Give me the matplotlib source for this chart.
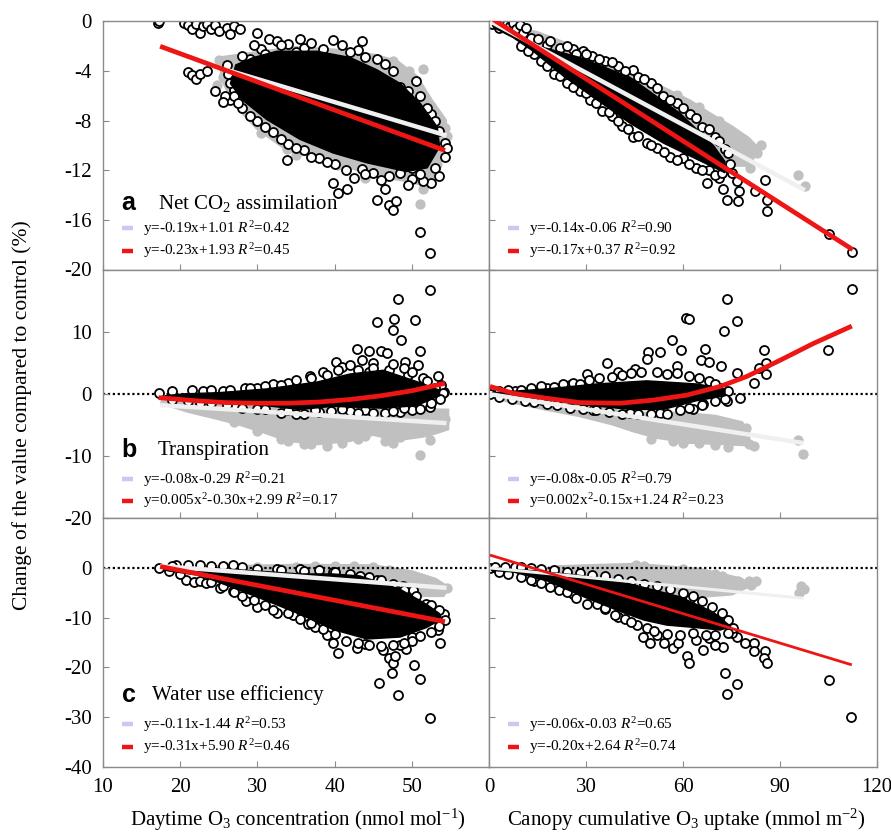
import matplotlib
matplotlib.use("Agg")
import matplotlib.pyplot as plt

plt.rcParams["font.family"] = ["Liberation Serif", "DejaVu Serif"]
plt.rcParams["mathtext.fontset"] = "custom"
plt.rcParams["mathtext.rm"] = "Liberation Serif"
plt.rcParams["mathtext.it"] = "Liberation Serif:italic"
plt.rcParams["mathtext.bf"] = "Liberation Serif:bold"
plt.rcParams["axes.unicode_minus"] = False

# -----------------------------------------------------------------------------
# Data (x, y in data units)
# core = outline of the solid, fully overlapped part of each cloud
# -----------------------------------------------------------------------------

# --- a, left: net CO2 assimilation vs daytime O3 ---
a_l_gray_core_x = [25.5, 30, 35, 40, 45, 48, 50.5, 52.5, 54.2, 54.3, 53.5, 52, 50, 45, 40, 34, 30, 27, 25.5]
a_l_gray_core_y = [-3.0, -2.6, -2.2, -2.4, -2.8, -3.3, -4.5, -6.5, -8.0, -9.5, -11.5, -13.2, -12.8, -12.3, -11.2, -10.3, -8.5, -6.5, -4.5]
a_l_gray_x = [25.0, 25.5, 24.8, 47.5, 49.5, 50.3, 51.3, 52.5, 53.5, 54.3, 54.5, 53.2, 51.5, 51.0, 33.8, 35.0, 30.5, 51.5, 49.6, 44.0, 40.5]
a_l_gray_y = [-3.1, -4.5, -5.1, -3.2, -4.3, -5.0, -6.3, -6.8, -7.8, -8.6, -9.2, -11.5, -13.5, -14.7, -10.3, -10.8, -9.0, -3.8, -4.0, -12.6, -11.6]
a_l_core_x = [27.2, 29.5, 32.5, 37.7, 42.0, 45.5, 48.5, 51.1, 53.3, 53.6, 52.0, 49.3, 44.2, 39.8, 35.5, 31.2, 28.0, 26.5]
a_l_core_y = [-3.5, -2.9, -2.4, -2.4, -2.9, -3.9, -5.0, -6.6, -8.5, -10.1, -11.8, -12.1, -11.4, -10.6, -9.5, -7.9, -6.3, -5.0]
a_l_pts_x = [17.1, 17.2, 20.5, 21.0, 21.5, 22.0, 22.5, 23.0, 23.5, 24.0, 24.5, 25.0, 26.0, 27.0, 27.8, 26.5,
             21.0, 21.5, 22.0, 22.5, 23.5,
             26.0, 27.0, 26.5, 25.8, 28.0, 29.0, 30.0, 31.5, 32.5, 34.0, 36.0, 39.8, 41.0, 43.0, 45.5, 47.5,
             48.5, 50.5, 51.0, 52.5, 53.5, 54.3, 54.3, 53.5, 52.5, 51.5, 50.0, 48.5, 47.0, 45.0, 43.5, 41.5,
             40.0, 38.0, 36.0, 34.0, 33.8, 32.0, 30.0, 28.0, 27.0,
             39.8, 40.5, 41.6, 45.5, 46.5, 47.0, 48.0, 47.5, 51.0, 52.3]
a_l_pts_y = [-0.1, 0.0, -0.1, -0.3, -0.6, -0.2, -0.9, -0.4, -0.2, -0.6, -0.3, -0.8, -0.5, -0.4, -0.6, -1.0,
             -4.1, -4.3, -4.6, -4.2, -4.0,
             -3.5, -5.5, -6.3, -6.0, -4.0, -3.0, -0.9, -1.4, -1.6, -1.8, -2.1, -1.5, -1.9, -2.3, -3.0, -4.0,
             -5.3, -4.8, -6.0, -7.5, -8.8, -9.8, -10.9, -12.5, -13.0, -12.9, -12.7, -12.2, -12.5, -12.2, -11.9, -12.0,
             -11.5, -11.0, -10.4, -9.9, -11.2, -8.9, -8.0, -7.0, -6.0,
             -13.0, -13.8, -13.5, -14.4, -13.5, -14.8, -14.5, -15.2, -17.0, -18.7]
a_l_edge_x = [28, 30.5, 33, 35, 37, 38.5, 42, 44, 46.5, 49.5, 52, 53, 54.5, 53, 51, 49.5, 46, 44, 42.5,
              39, 37, 35, 33, 31, 29, 27.5, 26.5, 26.2, 25.5, 24.5, 29.5, 31, 35.5, 43.5, 50]
a_l_edge_y = [-2.8, -2.2, -1.9, -2.5, -1.7, -2.2, -2.5, -2.9, -3.4, -5.6, -7.0, -8.0, -10.2, -11.8, -12.3, -13.2,
              -12.8, -12.3, -12.6, -11.3, -10.9, -10.2, -9.5, -8.5, -7.6, -6.6, -5.0, -4.2, -6.5, -5.6, -1.9,
              -2.6, -1.4, -1.6, -11.8]
a_l_white_x = [25.5, 54.5]
a_l_white_y = [-3.8, -9.2]
a_l_red_x = [17.4, 54.3]
a_l_red_y = [-2.0, -10.4]

# --- a, right: net CO2 assimilation vs canopy O3 uptake ---
a_r_gray_core_x = [3, 15, 25, 33, 40, 48, 55, 62, 68, 75, 80, 83, 80, 76, 70, 60, 50, 40, 30, 20, 10]
a_r_gray_core_y = [-0.3, -1.0, -2.0, -3.0, -3.6, -4.7, -5.6, -6.5, -7.5, -8.6, -9.5, -10.3, -11.5, -11.5, -10.5, -9.0, -7.5, -6.0, -4.5, -3.0, -1.5]
a_r_gray_x = [95.7, 97.7, 80.7, 83.0, 78.7, 84.0, 71.0, 73.0, 65.0, 58.0, 50.0, 45.0, 35.0]
a_r_gray_y = [-12.4, -13.3, -11.8, -10.6, -9.5, -10.0, -8.0, -9.3, -6.9, -5.9, -5.0, -4.3, -3.2]
a_r_core_x = [1.0, 12.7, 28.1, 43.6, 59.1, 69.4, 73.0, 73.0, 64.2, 53.9, 43.6, 33.3, 23.0, 13.7, 7.5, 1.5]
a_r_core_y = [-0.3, -1.8, -2.9, -4.5, -7.4, -10.0, -11.3, -12.2, -11.1, -9.8, -8.2, -6.3, -4.4, -2.4, -1.3, -0.5]
a_r_pts_x = [0.3, 1.0, 5.5, 6.5, 7.5, 8.5, 9.5, 10.6, 11.5,
             17.8, 22.0, 26.0, 29.0, 32.0, 36.0, 40.0, 44.6, 46.0, 50.0, 53.9, 58.0, 62.2, 66.0, 70.0, 73.0,
             67.3, 72.5, 73.5, 77.1, 77.4, 76.6, 82.3, 85.4, 85.9, 85.9, 105.0, 112.2,
             14.0, 16.0, 20.0, 24.0, 28.0, 31.2, 35.0, 38.0, 41.0, 44.6, 48.8, 52.0, 56.0, 60.0, 64.0, 68.0,
             71.0, 74.5, 75.0]
a_r_pts_y = [0.0, -0.2, -0.2, -0.4, -0.1, -0.6, -0.3, -0.9, -0.5,
             -1.9, -2.1, -2.2, -2.4, -2.8, -3.2, -3.6, -3.9, -4.5, -5.0, -6.0, -6.6, -7.5, -8.5, -9.3, -10.3,
             -13.0, -13.5, -14.4, -14.5, -13.7, -12.9, -13.7, -12.8, -14.4, -15.3, -17.1, -18.6,
             -2.6, -3.2, -4.2, -5.0, -5.6, -6.3, -7.2, -7.6, -8.4, -9.3, -9.8, -10.2, -10.9, -11.0, -11.8, -12.0,
             -12.6, -11.5, -12.2]
a_r_edge_x = [3, 13, 15, 19, 24, 27, 30, 34, 38, 42, 48, 52, 56, 60, 64, 68, 71, 74,
              10, 12, 18, 22, 26, 30, 33, 37, 40, 43, 46, 50, 54, 58, 62, 66, 70, 72]
a_r_edge_y = [-0.5, -1.3, -1.4, -1.6, -2.0, -2.6, -2.6, -3.0, -3.3, -4.0, -4.6, -5.4, -6.3, -7.0, -7.8, -8.7, -9.6, -10.6,
              -2.0, -2.4, -3.6, -4.4, -5.3, -5.8, -6.6, -7.3, -8.0, -8.7, -9.2, -10.0, -10.5, -11.2, -11.5, -12.0, -12.4, -12.2]
a_r_white_x = [0.5, 97.7]
a_r_white_y = [0.0, -13.6]
a_r_red_x = [0.5, 112.5]
a_r_red_y = [0.3, -18.4]

# --- b, left: transpiration vs daytime O3 ---
b_l_gray_core_x = [17.5, 25, 35, 45, 54.5, 54.5, 52, 48, 45, 42, 38, 34, 31, 28, 25, 21]
b_l_gray_core_y = [-1.2, -1.8, -2.3, -2.6, -2.8, -5.5, -6.5, -7.2, -6.3, -7.3, -7.8, -7.3, -6.0, -4.8, -3.8, -2.6]
b_l_gray_x = [51.1, 52.4, 47.5, 46.5, 39.0, 36.0, 34.0, 33.0, 30.0, 44.0, 54.3, 53.5, 27.0, 48.5, 41.0, 43.0, 37.0]
b_l_gray_y = [-9.8, -7.4, -7.9, -7.6, -8.3, -8.1, -7.6, -7.3, -6.0, -6.8, -4.0, -5.0, -4.5, -7.0, -7.9, -7.2, -8.0]
b_l_core_x = [18.0, 20.4, 25.0, 31.2, 37.7, 42.0, 46.3, 50.6, 53.6, 53.6, 50.6, 46.3, 39.8, 35.5, 29.0, 20.4]
b_l_core_y = [-0.3, 0.0, 0.2, 0.8, 1.9, 3.2, 3.8, 2.0, 0.6, -0.3, -1.9, -2.3, -2.0, -2.5, -1.6, -0.8]
b_l_pts_x = [52.4, 48.2, 45.5, 47.7, 47.5, 48.6, 50.4, 51.1, 42.9, 44.5, 46.0, 50.8, 53.4, 49.1, 40.2, 38.5,
             52.4, 46.5, 48.5, 53.0, 54.2, 36.8, 32.0, 28.4, 21.5, 17.2, 23.0, 25.5, 30.0, 34.0, 41.0, 43.5,
             45.0, 47.0, 49.5, 51.5, 53.8, 50.0, 44.0, 42.0, 38.0, 35.0, 33.0, 30.0, 27.0, 24.0, 21.0, 44.5, 46.8]
b_l_pts_y = [16.7, 15.3, 11.6, 12.0, 10.2, 8.6, 11.9, 6.9, 7.2, 6.9, 6.9, 4.6, 2.9, 5.2, 5.2, 3.5,
             -2.1, -3.0, -2.9, -0.3, 0.3, 2.8, 1.6, 0.9, 0.6, 0.2, 0.5, 0.4, 1.0, 1.8, 4.3, 5.5,
             5.0, 3.8, 3.0, 2.6, 1.5, -2.6, -2.6, -2.8, -2.9, -3.3, -3.0, -2.4, -1.8, -1.5, -1.2, 3.5, 6.5]
b_l_edge_x = [19, 24, 26.5, 29, 31, 33, 35, 37, 39, 40.5, 42, 43, 45, 47.5, 49, 50, 52, 53, 54,
              19, 22.5, 26, 28, 31, 34, 36, 37.5, 39.5, 41, 43, 45, 47.5, 49, 51, 52.5, 53.7]
b_l_edge_y = [0.5, 0.7, 0.6, 0.9, 1.3, 1.5, 2.2, 2.6, 3.0, 3.8, 4.6, 3.8, 4.2, 4.8, 4.2, 3.6, 2.0, 1.0, 0.2,
              -1.0, -1.5, -1.8, -2.2, -2.5, -2.6, -3.2, -2.6, -2.8, -2.4, -3.0, -3.1, -2.8, -2.2, -2.4, -1.5, -0.8]
b_l_white_x = [17.4, 54.5]
b_l_white_y = [-1.8, -4.7]
b_l_red_x = [17.2, 22, 26, 30, 34, 38, 42, 46, 50, 54.3]
b_l_red_y = [-0.6, -1.1, -1.4, -1.5, -1.5, -1.3, -0.9, -0.3, 0.5, 1.7]

# --- b, right: transpiration vs canopy O3 uptake ---
b_r_gray_core_x = [2, 15, 30, 45, 60, 70, 78, 80, 80, 72, 62, 52, 45, 38, 28, 18, 8]
b_r_gray_core_y = [-0.5, -1.2, -2.2, -3.3, -3.3, -3.8, -4.8, -6.5, -8.0, -7.8, -7.6, -6.8, -5.8, -4.6, -3.3, -2.3, -1.2]
b_r_gray_x = [95.7, 97.2, 80.5, 82.0, 79.5, 77.0, 65.0, 57.0, 50.0, 70.0, 74.0, 60.0]
b_r_gray_y = [-7.4, -9.7, -8.0, -8.4, -5.5, -6.0, -7.9, -7.6, -7.2, -8.2, -8.5, -7.9]
b_r_core_x = [1.0, 17.8, 33.3, 48.8, 64.2, 73.0, 73.0, 64.2, 53.9, 43.6, 28.1, 12.7, 1.0]
b_r_core_y = [0.2, 0.8, 1.6, 2.1, 1.6, 0.8, -0.3, -1.1, -2.5, -2.5, -1.7, -0.5, -0.2]
b_r_pts_x = [0.3, 112.2, 73.5, 60.9, 61.9, 76.6, 72.7, 56.6, 104.8, 84.9, 85.7, 85.7, 83.5, 82.1, 66.7, 59.4,
             49.3, 53.0, 49.0, 36.4, 30.2, 65.5, 68.0, 71.7, 76.8, 77.5, 73.5, 66.3, 63.2, 25.0, 17.9,
             52.9, 43.6, 32.3, 16.5, 40.0, 45.0, 58.0, 8.0, 4.0]
b_r_pts_y = [0.0, 16.9, 15.2, 12.2, 12.0, 11.7, 10.1, 8.7, 7.1, 7.1, 5.0, 3.2, 4.2, 1.7, 7.2, 7.0,
             6.8, 6.8, 5.6, 4.9, 3.2, 5.4, 5.2, 4.5, 3.4, -0.6, -1.1, -1.6, -2.4, 1.4, 0.9,
             -3.1, -3.1, -2.6, -1.0, 3.5, 4.0, 4.5, 0.4, 0.2]
b_r_edge_x = [3, 6, 10, 13, 16, 20, 23, 26, 28, 31, 34, 38, 41, 44, 47, 52, 55, 58, 62, 65, 68, 70, 72, 74,
              3, 7, 11, 14, 18, 21, 25, 29, 33, 37, 41, 46, 50, 55, 59, 62, 66, 70, 73]
b_r_edge_y = [0.4, 0.6, 0.7, 0.9, 1.3, 1.1, 1.6, 1.8, 1.6, 2.2, 2.5, 2.7, 3.0, 3.3, 3.6, 3.5, 3.2, 3.4, 2.8, 2.5, 2.0, 1.6, 1.0, 0.4,
              -0.5, -0.9, -1.2, -1.3, -1.6, -1.8, -2.2, -2.5, -2.6, -2.9, -3.2, -3.3, -3.3, -3.2, -2.6, -2.3, -1.8, -1.2, -0.8]
b_r_white_x = [0.3, 97.2]
b_r_white_y = [-0.05, -7.9]
b_r_red_x = [0.3, 7.5, 17.8, 28.1, 40.5, 50.8, 61.1, 71.5, 79.7, 90.0, 100.3, 112.2]
b_r_red_y = [1.2, 0.1, -0.7, -1.4, -1.5, -1.0, -0.2, 1.2, 2.8, 5.4, 8.1, 10.9]

# --- c, left: water use efficiency vs daytime O3 ---
c_l_gray_core_x = [25, 35, 45, 50, 53, 54.5, 54, 50, 45, 38, 30, 25]
c_l_gray_core_y = [0.0, 0.3, 0.2, -1.0, -2.5, -4.0, -5.3, -5.3, -4.5, -3.0, -1.5, -0.8]
c_l_gray_x = [30, 35, 37.5, 40, 42.5, 45, 47, 49, 50.5, 52, 53.5, 54.5, 48, 51]
c_l_gray_y = [0.1, 0.2, 0.4, 0.4, 0.3, 0.1, -0.5, -1.3, -2.0, -3.0, -3.8, -4.1, -2.0, -4.8]
c_l_core_x = [18.0, 26.9, 35.5, 39.8, 43.3, 48.5, 51.9, 53.6, 53.6, 51.9, 48.5, 44.2, 39.8, 35.5, 31.2, 26.9, 22.6, 18.5]
c_l_core_y = [-0.4, -0.3, -1.2, -1.2, -1.6, -4.3, -7.3, -9.2, -10.5, -12.0, -13.9, -14.3, -12.4, -9.3, -6.6, -4.0, -1.5, -0.6]
c_l_pts_x = [17.2, 20.8, 21.8, 22.6, 23.4, 25.2, 26.9, 32.5, 34.6, 36.6, 37.4, 39.0, 40.5, 39.8, 42.9, 44.0,
             45.7, 46.3, 47.0, 47.5, 47.8, 47.4, 48.2, 50.3, 51.1, 52.4, 53.6, 53.4, 54.2, 51.9, 50.2, 48.8,
             45.5, 43.3, 39.8, 35.5, 32.5, 26.9, 22.6, 19.5, 49.3, 50.0, 48.5, 30.0, 28.5]
c_l_pts_y = [0.0, -2.4, -2.8, -2.6, -3.1, -4.0, -4.7, -9.1, -9.5, -11.3, -11.9, -13.5, -17.2, -15.0, -16.2, -15.4,
             -23.2, -16.5, -18.2, -19.1, -17.8, -21.2, -25.5, -19.5, -22.3, -30.2, -15.2, -12.5, -9.3, -7.3, -4.4, -3.6,
             -2.4, -1.6, -0.8, -0.3, -0.3, 0.5, 0.5, 0.7, -16.3, -13.8, -15.6, -7.8, -6.6]
c_l_edge_x = [19, 21, 24, 25.5, 28, 30, 33, 36, 38, 40, 42, 44.5, 46, 47.5, 49, 50.5, 52.5, 53.5, 54.3,
              53.5, 52.5, 51, 50, 49, 47.5, 46, 44.5, 43, 41.5, 40, 38.5, 37, 35.5, 34, 32, 31, 29.5, 28, 27,
              25.5, 24, 20, 18.5]
c_l_edge_y = [0.3, 0.5, 0.4, 0.3, 0.2, -0.2, -0.5, -0.6, -0.4, -0.9, -1.2, -1.8, -2.5, -3.2, -4.5, -5.6, -7.5, -8.5, -10.5,
              -11.6, -12.8, -13.6, -14.6, -15.2, -15.5, -15.8, -15.5, -15.0, -14.6, -13.3, -12.3, -11.0, -10.2, -9.0,
              -8.4, -7.5, -6.5, -5.6, -4.9, -3.6, -2.9, -1.2, -0.6]
c_l_white_x = [17.4, 54.5]
c_l_white_y = [0.4, -4.0]
c_l_red_x = [17.4, 54.3]
c_l_red_y = [0.3, -10.8]

# --- c, right: water use efficiency vs canopy O3 uptake ---
c_r_gray_core_x = [20, 35, 45, 55, 65, 72, 78, 80, 75, 65, 55, 45, 35, 25, 15]
c_r_gray_core_y = [0.0, 0.3, 0.5, 0.0, -0.5, -1.5, -2.5, -3.5, -5.0, -5.5, -5.0, -4.0, -3.0, -2.0, -1.0]
c_r_gray_x = [45.5, 48.0, 60.0, 70.0, 72.0, 77.0, 80.5, 82.7, 81.0, 96.5, 97.5, 95.8, 66.0, 60.0, 55.0]
c_r_gray_y = [0.6, 0.3, -0.3, -1.2, -1.6, -2.6, -2.6, -2.6, -3.4, -3.7, -4.2, -5.0, -4.6, -5.0, -5.2]
c_r_core_x = [1.0, 12.7, 28.1, 43.6, 59.1, 69.4, 74.8, 71.5, 64.0, 55.0, 48.0, 41.5, 30.0, 18.0, 7.5, 1.0]
c_r_core_y = [-0.2, -0.5, -1.5, -3.2, -5.8, -8.9, -11.8, -12.5, -12.0, -11.5, -10.5, -9.0, -6.0, -2.6, -0.8, -0.5]
c_r_pts_x = [0.3, 2.0, 5.0, 8.0, 18.9, 21.5, 30.2, 33.3, 45.7, 47.7, 49.8, 54.0, 57.0, 58.5, 61.1, 62.0,
             66.3, 72.3, 72.9, 73.5, 76.8, 76.6, 79.2, 82.0, 82.0, 85.4, 85.0, 85.9, 105.0, 111.9,
             62.2, 71.5, 48.8, 52.0, 64.0, 68.0, 70.0, 36.0, 40.0, 26.0, 14.0, 75.0]
c_r_pts_y = [0.0, 0.1, 0.1, 0.1, -3.8, -4.4, -7.3, -7.3, -11.5, -13.8, -15.2, -15.2, -16.2, -15.2, -17.8, -19.2,
             -16.5, -16.0, -21.2, -25.4, -23.3, -13.8, -15.2, -15.0, -16.8, -16.8, -18.2, -19.2, -22.5, -30.0,
             -6.3, -10.1, -12.0, -13.5, -14.5, -14.0, -15.5, -8.3, -9.8, -5.2, -2.6, -13.0]
c_r_edge_x = [10, 13, 16, 20, 24, 28, 32, 36, 40, 44, 48, 52, 56, 60, 63, 66, 69, 72, 74, 75.5,
              3, 6, 10, 13, 16, 24, 27, 36, 39, 42, 44, 51, 55, 59, 63, 67, 70, 74]
c_r_edge_y = [0.2, 0.0, -0.3, -0.5, -0.8, -1.1, -1.4, -1.7, -2.2, -2.6, -3.2, -3.6, -4.3, -5.0, -5.6, -6.6, -7.8, -9.0, -10.5, -12.0,
              -0.9, -1.3, -1.8, -2.4, -3.0, -4.9, -6.0, -8.1, -9.4, -10.3, -10.8, -12.6, -13.3, -13.5, -13.0, -13.4, -13.5, -13.0]
c_r_white_x = [0.3, 97.2]
c_r_white_y = [0.0, -6.1]
c_r_red_x = [0.3, 112.2]
c_r_red_y = [2.6, -19.5]

legend_text = {
    ("a", "l"): ["y=-0.19x+1.01 $R^2$=0.42", "y=-0.23x+1.93 $R^2$=0.45"],
    ("a", "r"): ["y=-0.14x-0.06 $R^2$=0.90", "y=-0.17x+0.37 $R^2$=0.92"],
    ("b", "l"): ["y=-0.08x-0.29 $R^2$=0.21", "y=0.005x$^2$-0.30x+2.99 $R^2$=0.17"],
    ("b", "r"): ["y=-0.08x-0.05 $R^2$=0.79", "y=0.002x$^2$-0.15x+1.24 $R^2$=0.23"],
    ("c", "l"): ["y=-0.11x-1.44 $R^2$=0.53", "y=-0.31x+5.90 $R^2$=0.46"],
    ("c", "r"): ["y=-0.06x-0.03 $R^2$=0.65", "y=-0.20x+2.64 $R^2$=0.74"],
}
panel_titles = {"a": "Net CO$_2$ assimilation", "b": "Transpiration", "c": "Water use efficiency"}

# -----------------------------------------------------------------------------
# Layout
# -----------------------------------------------------------------------------

W, H = 891, 832
GRAY_PTS = "#c0c0c0"
RED = "#ee1515"
SPINE = "#8a8a8a"

rows = {"a": (21.5, 269.5), "b": (269.5, 518.3), "c": (518.3, 766.7)}
cols = {"l": (103, 489), "r": (489, 877)}
xlims = {"l": (10, 60), "r": (0, 120)}
ylims = {"a": (-20, 0), "b": (-20, 20), "c": (-40, 10)}
yticks = {"a": [0, -4, -8, -12, -16, -20], "b": [-20, -10, 0, 10, 20], "c": [-40, -30, -20, -10, 0, 10]}
yticklabels = {"a": ["0", "-4", "-8", "-12", "-16", "-20"], "b": ["-20", "-10", "0", "10", ""],
               "c": ["-40", "-30", "-20", "-10", "0", ""]}
xticks = {"l": [10, 20, 30, 40, 50], "r": [0, 30, 60, 90, 120]}
legend_y = {"a": (0.167, 0.076), "b": (0.157, 0.070), "c": (0.171, 0.080)}
title_y = {"a": 0.268, "b": 0.274, "c": 0.289}
title_x = {"a": 0.142, "b": 0.142, "c": 0.127}

panels = {
    ("a", "l"): (a_l_gray_core_x, a_l_gray_core_y, a_l_gray_x, a_l_gray_y, a_l_core_x, a_l_core_y,
                 a_l_pts_x + a_l_edge_x, a_l_pts_y + a_l_edge_y, a_l_white_x, a_l_white_y, a_l_red_x, a_l_red_y),
    ("a", "r"): (a_r_gray_core_x, a_r_gray_core_y, a_r_gray_x, a_r_gray_y, a_r_core_x, a_r_core_y,
                 a_r_pts_x + a_r_edge_x, a_r_pts_y + a_r_edge_y, a_r_white_x, a_r_white_y, a_r_red_x, a_r_red_y),
    ("b", "l"): (b_l_gray_core_x, b_l_gray_core_y, b_l_gray_x, b_l_gray_y, b_l_core_x, b_l_core_y,
                 b_l_pts_x + b_l_edge_x, b_l_pts_y + b_l_edge_y, b_l_white_x, b_l_white_y, b_l_red_x, b_l_red_y),
    ("b", "r"): (b_r_gray_core_x, b_r_gray_core_y, b_r_gray_x, b_r_gray_y, b_r_core_x, b_r_core_y,
                 b_r_pts_x + b_r_edge_x, b_r_pts_y + b_r_edge_y, b_r_white_x, b_r_white_y, b_r_red_x, b_r_red_y),
    ("c", "l"): (c_l_gray_core_x, c_l_gray_core_y, c_l_gray_x, c_l_gray_y, c_l_core_x, c_l_core_y,
                 c_l_pts_x + c_l_edge_x, c_l_pts_y + c_l_edge_y, c_l_white_x, c_l_white_y, c_l_red_x, c_l_red_y),
    ("c", "r"): (c_r_gray_core_x, c_r_gray_core_y, c_r_gray_x, c_r_gray_y, c_r_core_x, c_r_core_y,
                 c_r_pts_x + c_r_edge_x, c_r_pts_y + c_r_edge_y, c_r_white_x, c_r_white_y, c_r_red_x, c_r_red_y),
}

fig = plt.figure(figsize=(W / 100, H / 100), dpi=100)

for (row, col), data in panels.items():
    gcx, gcy, gx, gy, bcx, bcy, bx, by, wx, wy, rx, ry = data
    x0, x1 = cols[col]
    y0, y1 = rows[row]
    ax = fig.add_axes([x0 / W, 1 - y1 / H, (x1 - x0) / W, (y1 - y0) / H])

    ax.fill(gcx, gcy, color=GRAY_PTS, lw=4, zorder=1)
    ax.scatter(gx, gy, s=55, color=GRAY_PTS, lw=0, zorder=1.1)
    if row != "a":
        ax.axhline(0, color="black", ls=(0, (1, 1.2)), lw=1.6, zorder=1.5)
    # open circles sit under the solid core so only their outer halves show at the rim
    ax.scatter(bx, by, s=42, facecolor="white", edgecolor="black", lw=1.3, zorder=1.9)
    ax.fill(bcx, bcy, color="black", lw=1, zorder=2)
    lw_white = 2.2 if (row, col) == ("c", "r") else 3.2
    lw_red = 2.0 if (row, col) == ("c", "r") else 3.4
    ax.plot(wx, wy, color="#f0f0f0", lw=lw_white, solid_capstyle="butt", zorder=3)
    ax.plot(rx, ry, color=RED, lw=lw_red, solid_capstyle="butt", zorder=4)

    ax.set_xlim(*xlims[col])
    ax.set_ylim(*ylims[row])
    for sp in ax.spines.values():
        sp.set_color(SPINE)
        sp.set_linewidth(1.0)
    ax.tick_params(direction="in", length=4, width=0.8, color=SPINE, labelsize=15, pad=8)
    ax.set_yticks(yticks[row])
    if col == "l":
        ax.set_yticklabels(yticklabels[row])
    else:
        ax.set_yticklabels([])
    ax.set_xticks(xticks[col])
    if row == "c":
        ax.set_xticklabels([str(v) for v in xticks[col]])
    else:
        ax.set_xticklabels([])

    # panel letter and title
    if col == "l":
        ax.text(0.048, title_y[row], row, transform=ax.transAxes, fontsize=18, fontweight="bold",
                family="Liberation Sans", va="center", ha="left")
        ax.text(title_x[row], title_y[row], panel_titles[row], transform=ax.transAxes,
                fontsize=15, va="center", ha="left")

    # equation legend
    for k, (txt, ly) in enumerate(zip(legend_text[(row, col)], legend_y[row])):
        ax.plot([0.048, 0.078], [ly, ly], transform=ax.transAxes, lw=3.2,
                color="#c8c8f2" if k == 0 else RED, solid_capstyle="butt", zorder=5)
        ax.text(0.103, ly, txt, transform=ax.transAxes, fontsize=11, va="center", ha="left")

fig.text(298 / W, 1 - 820 / H, "Daytime O$_3$ concentration (nmol mol$^{-1}$)",
         fontsize=15, ha="center", va="center")
fig.text(686 / W, 1 - 820 / H, "Canopy cumulative O$_3$ uptake (mmol m$^{-2}$)",
         fontsize=15, ha="center", va="center")
fig.text(22 / W, 1 - 415 / H, "Change of the value compared to control (%)",
         fontsize=15.5, rotation=90, ha="center", va="center")

fig.savefig("out.png", dpi=100)
